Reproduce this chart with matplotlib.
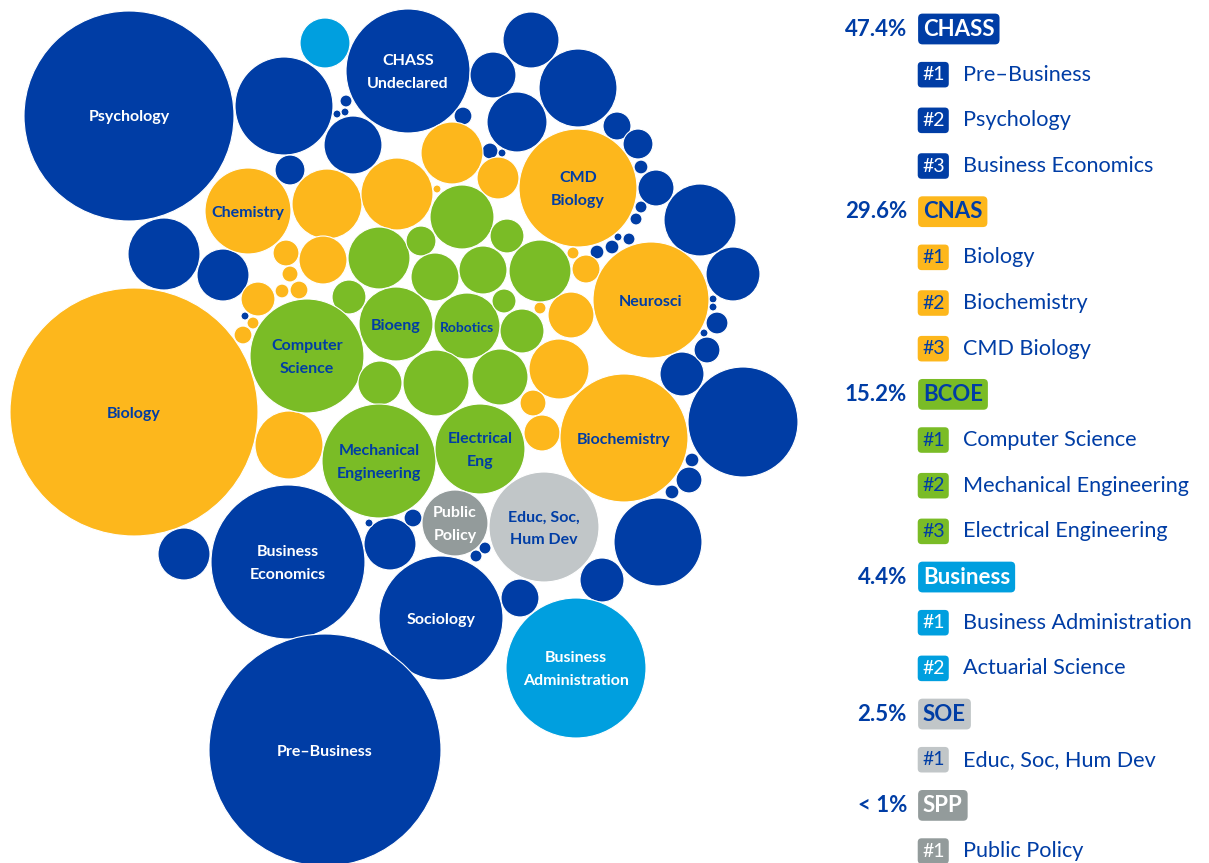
import matplotlib.pyplot as plt
from matplotlib.patches import Circle
import numpy as np

plt.rcParams['font.family'] = ['Lato', 'DejaVu Sans']

# school colours
colors = {"CHASS": "#003DA5", "CNAS": "#FDB71C", "BCOE": "#7ABC26",
          "Business": "#009FDF", "SOE": "#C1C6C8", "SPP": "#939B9B"}
text_on = {"CHASS": "white", "CNAS": "#003DA5", "BCOE": "#003DA5",
           "Business": "white", "SOE": "#003DA5", "SPP": "white"}

# one entry per major bubble: school, student count (area), label
schools = (["CHASS"] * 52 + ["Business"] * 2 + ["CNAS"] * 26 + ["BCOE"] * 18
           + ["SOE", "SPP"])
counts = [2756, 961, 600, 9, 4, 4, 210, 56, 324, 169, 196, 132, 380, 225, 20, 49,
          56, 12, 81, 324, 182, 9, 9, 16, 4, 12, 12, 4, 9, 4, 1482, 169, 169, 4,
          756, 121, 30, 4, 4, 4, 42, 12, 42, 12, 20, 9, 9, 484, 961, 90, 121, 3364,
          156, 1225,
          462, 306, 324, 240, 110, 4, 870, 42, 16, 144, 12, 20, 72, 9, 20, 3844,
          289, 9, 49, 841, 9, 132, 225, 42, 81, 1024,
          240, 72, 256, 72, 56, 144, 144, 240, 812, 342, 121, 812, 272, 36, 121,
          272, 196, 506,
          756, 272]
labels = {0: "Psychology", 1: "CHASS\nUndeclared", 30: "Business\nEconomics",
          48: "Sociology", 51: "Pre–Business", 53: "Business\nAdministration",
          54: "Chemistry", 60: "CMD\nBiology", 69: "Biology", 73: "Neurosci",
          79: "Biochemistry", 88: "Computer\nScience", 89: "Bioeng",
          91: "Mechanical\nEngineering", 92: "Robotics", 97: "Electrical\nEng",
          98: "Educ, Soc,\nHum Dev", 99: "Public\nPolicy"}

# packing layout (bubble centres, pixels) as drawn in the reference
centres = [(129, 116), (408, 71), (284, 106), (346, 101), (345, 112), (337, 114),
           (353, 145), (290, 170), (164, 254), (223, 275), (531, 40), (493, 75),
           (578, 88), (517, 122), (463, 116), (617, 126), (638, 144), (641, 167),
           (656, 188), (700, 220), (733, 274), (641, 207), (636, 219), (490, 151),
           (502, 153), (597, 252), (612, 247), (618, 237), (629, 239), (245, 316),
           (288, 562), (184, 554), (390, 544), (369, 523), (743, 422), (682, 374),
           (717, 323), (713, 299), (713, 307), (704, 333), (707, 350), (692, 460),
           (689, 480), (672, 492), (413, 518), (485, 548), (476, 556), (658, 542),
           (441, 618), (520, 598), (602, 580), (325, 750),
           (325, 43), (576, 668),
           (248, 211), (327, 204), (397, 194), (452, 153), (498, 178), (437, 189),
           (578, 188), (286, 253), (290, 274), (323, 260), (282, 291), (299, 290),
           (258, 299), (253, 323), (243, 335), (134, 412), (289, 445), (573, 253),
           (586, 269), (651, 300), (540, 308), (571, 315), (559, 369), (533, 403),
           (542, 433), (624, 438),
           (379, 258), (349, 297), (462, 217), (507, 236), (421, 241), (435, 277),
           (483, 270), (540, 271), (307, 356), (396, 324), (380, 383), (379, 461),
           (467, 326), (504, 301), (522, 331), (436, 383), (500, 377), (480, 449),
           (544, 527), (455, 523)]

# legend: share per school and top majors
leg_schools = ["CHASS", "CNAS", "BCOE", "Business", "SOE", "SPP"]
leg_share = ["47.4%", "29.6%", "15.2%", "4.4%", "2.5%", "< 1%"]
leg_top = [["Pre–Business", "Psychology", "Business Economics"],
           ["Biology", "Biochemistry", "CMD Biology"],
           ["Computer Science", "Mechanical Engineering", "Electrical Engineering"],
           ["Business Administration", "Actuarial Science"],
           ["Educ, Soc, Hum Dev"],
           ["Public Policy"]]

fig = plt.figure(figsize=(12.09, 8.63), dpi=100)
ax = fig.add_axes([0, 0, 1, 1])
ax.set_xlim(0, 1209)
ax.set_ylim(863, 0)
ax.axis('off')

for i, (s, c, (x, y)) in enumerate(zip(schools, counts, centres)):
    r = 2 * np.sqrt(c)
    ax.add_patch(Circle((x, y), r, fc=colors[s], ec='white', lw=0.8))
    if i in labels:
        fs = 10 if labels[i] == "Robotics" else 11.5
        ax.text(x, y + 1.5, labels[i], ha='center', va='center', fontsize=fs,
                fontweight='bold', color=text_on[s], linespacing=1.75)

dark = "#003DA5"
row = 0
step = 45.67
for s, share, tops in zip(leg_schools, leg_share, leg_top):
    y = 29 + row * step
    ax.text(907, y, share, ha='right', va='center', fontsize=16,
            fontweight='bold', color=dark)
    ax.text(923, y, s, ha='left', va='center', fontsize=16, fontweight='bold',
            color=text_on[s],
            bbox=dict(boxstyle='round,pad=0.22,rounding_size=0.2', fc=colors[s], ec='none'))
    row += 1
    for k, name in enumerate(tops):
        y = 29 + row * step
        ax.text(922, y, "#%d" % (k + 1), ha='left', va='center', fontsize=14,
                color=text_on[s],
                bbox=dict(boxstyle='round,pad=0.22,rounding_size=0.2', fc=colors[s], ec='none'))
        ax.text(963, y, name, ha='left', va='center', fontsize=15.6, color=dark)
        row += 1

fig.savefig("out.png", dpi=100)
